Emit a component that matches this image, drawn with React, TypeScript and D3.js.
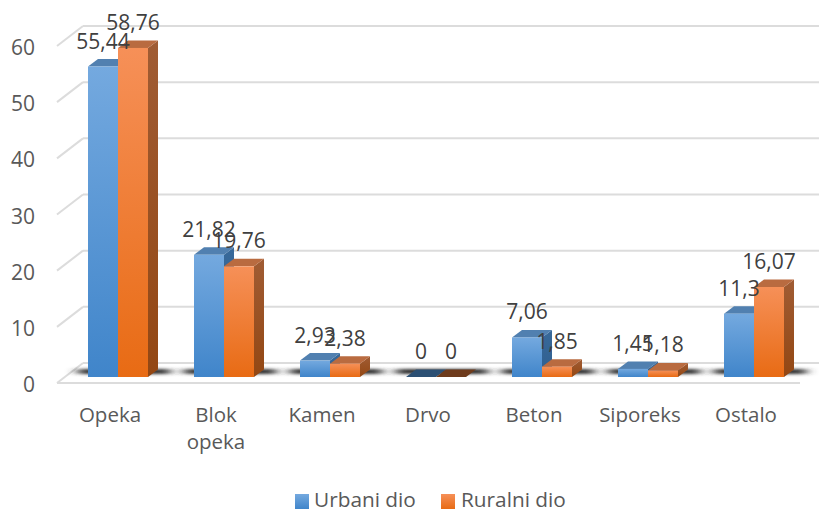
import React from 'react';
import * as d3 from 'd3';

const categories = ['Opeka', 'Blok opeka', 'Kamen', 'Drvo', 'Beton', 'Siporeks', 'Ostalo'];
const urbani = [55.44, 21.82, 2.93, 0, 7.06, 1.45, 11.3];
const ruralni = [58.76, 19.76, 2.38, 0, 1.85, 1.18, 16.07];
const urbaniLabels = ['55,44', '21,82', '2,93', '0', '7,06', '1,45', '11,3'];
const ruralniLabels = ['58,76', '19,76', '2,38', '0', '1,85', '1,18', '16,07'];
const yTicks = [0, 10, 20, 30, 40, 50, 60];
const seriesNames = ['Urbani dio', 'Ruralni dio'];

const WIDTH = 819;
const HEIGHT = 510;
const DEPTH_X = 10;
const DEPTH_Y = 7.5;
const FONT = '"Open Sans", sans-serif';

const colors = [
  { top: '#5180b0', side: '#38699a', sideLow: '#2f5f8f', flat: '#2c5074', light: '#74a9df', dark: '#4085ca' },
  { top: '#b96b40', side: '#a05c34', sideLow: '#934713', flat: '#6e3b1c', light: '#f69058', dark: '#e86b14' },
];

const x = d3.scaleBand<string>().domain(categories).range([65, 807]);
const inner = d3.scaleBand<number>().domain([0, 1]).range([23, 83]);
const yBar = d3.scaleLinear().domain([0, 60]).range([377, 41]);
const yBack = d3.scaleLinear().domain([0, 60]).range([363, 26]);
const yFront = d3.scaleLinear().domain([0, 60]).range([383, 46]);

const poly = (pts: [number, number][]) => pts.map(p => p.join(',')).join(' ');

export default function App() {
  const series = [urbani, ruralni];
  const labels = [urbaniLabels, ruralniLabels];
  return (
    <svg
      width={WIDTH}
      height={HEIGHT}
      style={{ position: 'absolute', left: 0, top: 0, background: '#fff' }}
      fontFamily={FONT}
    >
      <defs>
        {colors.map((c, i) => (
          <linearGradient key={i} id={`front${i}`} x1="0" y1="0" x2="0" y2="1">
            <stop offset="0" stopColor={c.light} />
            <stop offset="1" stopColor={c.dark} />
          </linearGradient>
        ))}
        {colors.map((c, i) => (
          <linearGradient key={i} id={`side${i}`} x1="0" y1="0" x2="0" y2="1">
            <stop offset="0" stopColor={c.side} />
            <stop offset="1" stopColor={c.sideLow} />
          </linearGradient>
        ))}
        <filter id="blur" x="-30%" y="-300%" width="160%" height="700%">
          <feGaussianBlur stdDeviation="6 1.6" />
        </filter>
      </defs>

      {/* back wall grid */}
      {yTicks.map(t => (
        <g key={t} stroke="#dcdcdc" strokeWidth={2} fill="none">
          <line x1={83} x2={WIDTH} y1={yBack(t)} y2={yBack(t)} />
          <line x1={57} x2={83} y1={yFront(t)} y2={yBack(t)} />
        </g>
      ))}
      <line x1={57} x2={800} y1={yFront(0)} y2={yFront(0)} stroke="#dcdcdc" strokeWidth={2} />

      {/* floor shadows */}
      {categories.map(c => (
        <rect
          key={c}
          x={x(c)! + inner(0)! - 10}
          y={369}
          width={inner.bandwidth() * 2 + 32}
          height={5}
          fill="#333"
          filter="url(#blur)"
        />
      ))}

      {/* bars */}
      {categories.map((c, ci) =>
        series.map((vals, si) => {
          const v = vals[ci];
          const x0 = x(c)! + inner(si)!;
          const x1 = x0 + inner.bandwidth();
          const yT = yBar(v);
          const yB = yBar(0);
          const col = colors[si];
          return (
            <g key={`${c}${si}`}>
              {v > 0 && (
                <polygon
                  points={poly([[x1, yT], [x1 + DEPTH_X, yT - DEPTH_Y], [x1 + DEPTH_X, yB - DEPTH_Y], [x1, yB]])}
                  fill={`url(#side${si})`}
                />
              )}
              <polygon
                points={poly([[x0, yT], [x0 + DEPTH_X, yT - DEPTH_Y], [x1 + DEPTH_X, yT - DEPTH_Y], [x1, yT]])}
                fill={v > 0 ? col.top : col.flat}
              />
              {v > 0 && <rect x={x0} y={yT} width={x1 - x0} height={yB - yT} fill={`url(#front${si})`} />}
            </g>
          );
        })
      )}

      {/* value labels */}
      {categories.map((c, ci) =>
        series.map((vals, si) => (
          <text
            key={`${c}${si}`}
            x={x(c)! + inner(si)! + inner.bandwidth() / 2}
            y={yBar(vals[ci]) - 18}
            textAnchor="middle"
            fontSize={21}
            fill="#404040"
          >
            {labels[si][ci]}
          </text>
        ))
      )}

      {/* y axis labels */}
      {yTicks.map(t => (
        <text key={t} x={35} y={yFront(t) + 9} textAnchor="end" fontSize={21} fill="#595959">
          {t}
        </text>
      ))}

      {/* category labels */}
      {categories.map(c => (
        <text key={c} textAnchor="middle" fontSize={20.5} fill="#595959">
          {c.split(' ').map((w, i) => (
            <tspan key={w} x={x(c)! + x.bandwidth() / 2 - 8} y={422 + i * 27}>
              {w}
            </tspan>
          ))}
        </text>
      ))}

      {/* legend */}
      {seriesNames.map((name, i) => (
        <g key={name}>
          <rect x={295 + i * 146} y={494} width={14} height={15} fill={`url(#front${i})`} />
          <text x={314 + i * 147} y={507} fontSize={20.8} fill="#595959">
            {name}
          </text>
        </g>
      ))}
    </svg>
  );
}
